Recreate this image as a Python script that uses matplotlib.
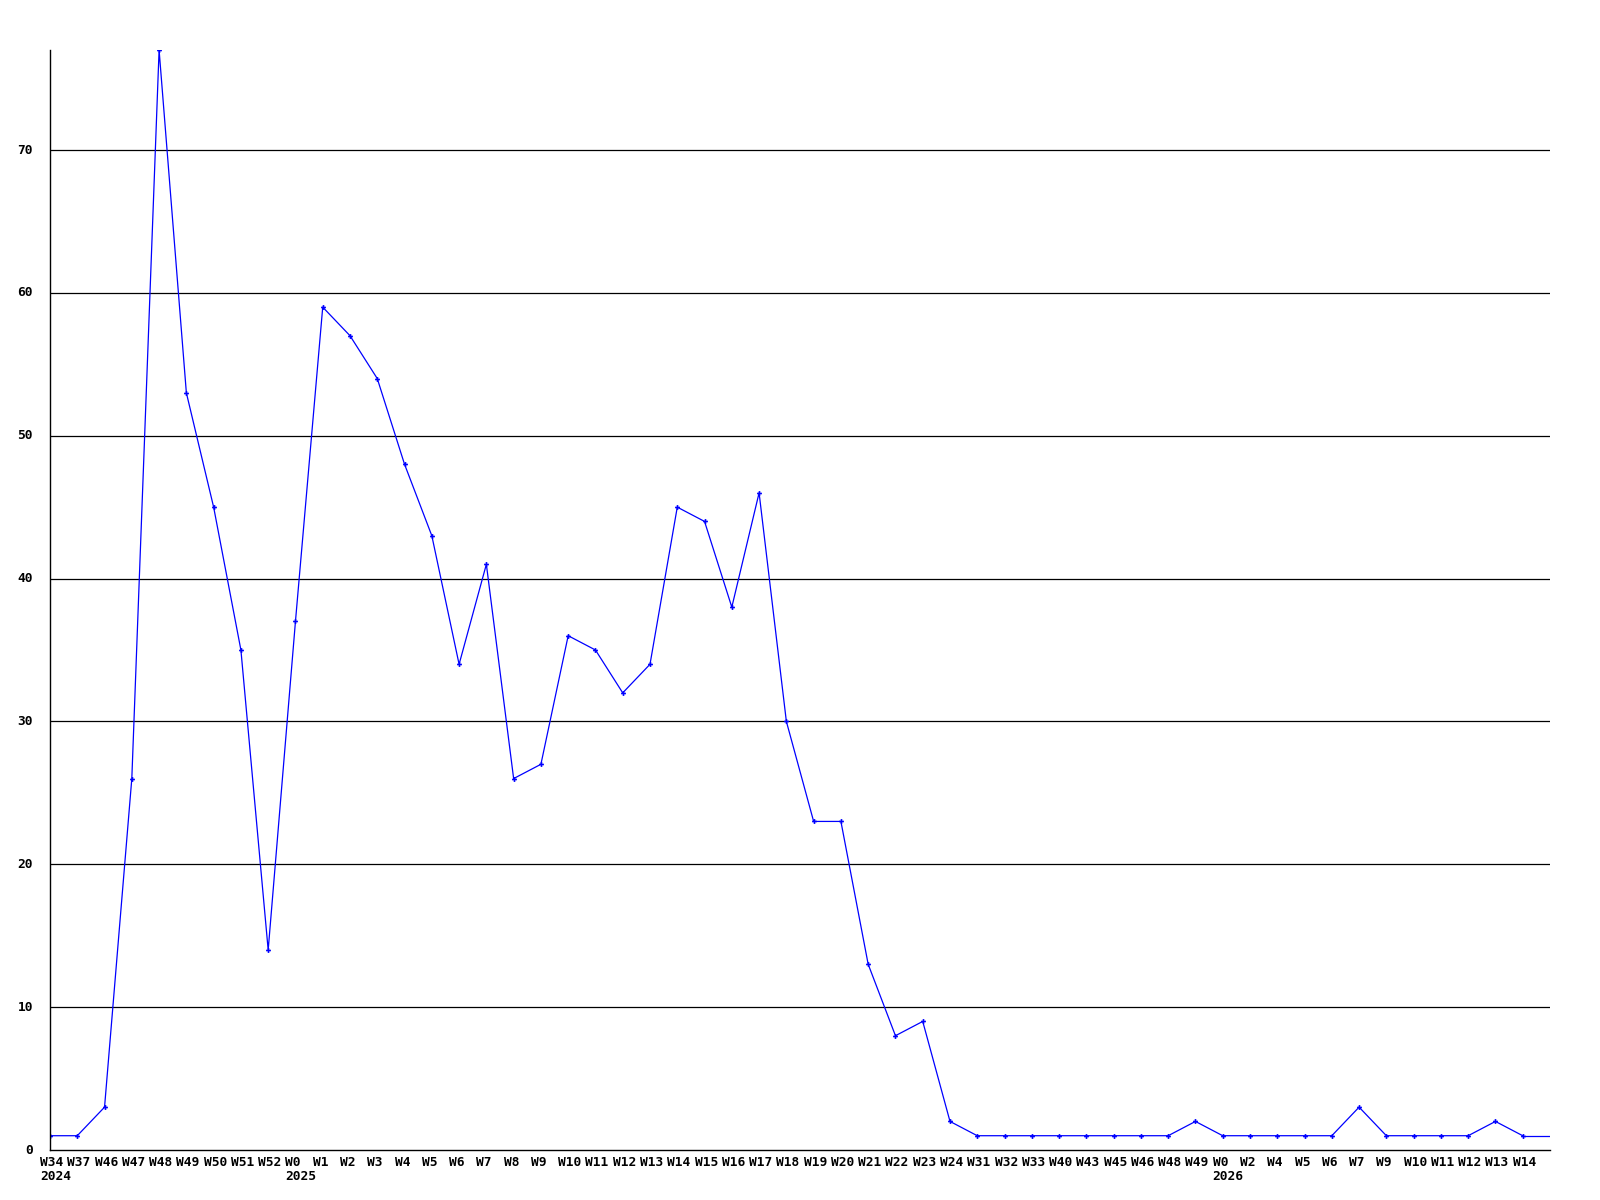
import numpy as np
import matplotlib
matplotlib.use("Agg")
import matplotlib.pyplot as plt
import matplotlib.transforms as mtransforms

weeks = ["W34", "W37", "W46", "W47", "W48", "W49", "W50", "W51", "W52",
         "W0", "W1", "W2", "W3", "W4", "W5", "W6", "W7", "W8", "W9", "W10",
         "W11", "W12", "W13", "W14", "W15", "W16", "W17", "W18", "W19", "W20",
         "W21", "W22", "W23", "W24", "W31", "W32", "W33", "W40", "W43", "W45",
         "W46", "W48", "W49", "W0", "W2", "W4", "W5", "W6", "W7", "W9", "W10",
         "W11", "W12", "W13", "W14"]
years = [2024] * 9 + [2025] * 34 + [2026] * 12
counts = [1, 1, 3, 26, 77, 53, 45, 35, 14, 37, 59, 57, 54, 48, 43, 34, 41, 26,
          27, 36, 35, 32, 34, 45, 44, 38, 46, 30, 23, 23, 13, 8, 9, 2, 1, 1, 1,
          1, 1, 1, 1, 1, 2, 1, 1, 1, 1, 1, 3, 1, 1, 1, 1, 2, 1]
yticks = [0, 10, 20, 30, 40, 50, 60, 70]

font = dict(family="DejaVu Sans Mono", fontweight="bold", fontsize=9.3)
blue = "#0000ff"

fig = plt.figure(figsize=(16, 12), dpi=100)
ax = fig.add_axes([50 / 1600, 50 / 1200, 1500 / 1600, 1100 / 1200])

x = np.arange(len(counts))
# line runs on flat past the last point to the right edge
ax.plot([x[-1], x[-1] + 1], [counts[-1], counts[-1]], color=blue, lw=0.9)
ax.plot(x, counts, color=blue, lw=0.9, marker="P", ms=3.5, mew=0)

ax.set_xlim(0, len(counts))
ax.set_ylim(0, 77)

for y in yticks[1:]:
    ax.axhline(y, color="black", lw=0.9, zorder=0)

for s in ["top", "right"]:
    ax.spines[s].set_visible(False)
ax.spines["left"].set_linewidth(1.0)
ax.spines["bottom"].set_linewidth(1.0)
ax.set_xticks([])
ax.set_yticks([])

ytrans = ax.get_yaxis_transform() + mtransforms.ScaledTranslation(-17 / 100, 0, fig.dpi_scale_trans)
for y in yticks:
    ax.text(0, y, str(y), transform=ytrans, ha="right", va="center", **font)

xtrans = ax.get_xaxis_transform() + mtransforms.ScaledTranslation(-10 / 100, 0, fig.dpi_scale_trans)
prev = None
for i, w in enumerate(weeks):
    ax.text(i, 0, w, transform=xtrans + mtransforms.ScaledTranslation(0, -12 / 100, fig.dpi_scale_trans),
            ha="left", va="center", **font)
    if years[i] != prev:
        ax.text(i, 0, str(years[i]), transform=xtrans + mtransforms.ScaledTranslation(0, -27 / 100, fig.dpi_scale_trans),
                ha="left", va="center", **font)
        prev = years[i]

fig.savefig("out.png", dpi=100)
